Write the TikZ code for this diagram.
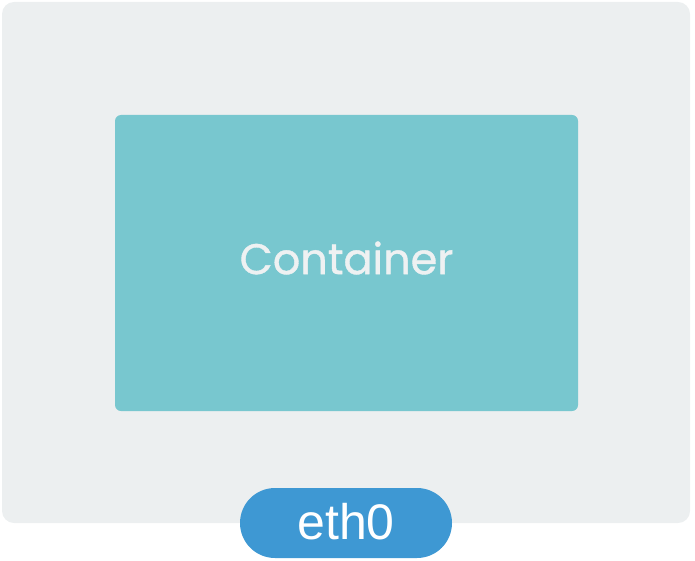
\documentclass[tikz,border=0pt]{standalone}
\usepackage{fontspec}
\newfontfamily\popfont[FakeBold=0.9]{Poppins}
\newfontfamily\arialfont{Liberation Sans}
\definecolor{outerbg}{HTML}{ECEFF0}
\definecolor{innerbg}{HTML}{78C7CF}
\definecolor{pillbg}{HTML}{3E98D3}
\definecolor{lighttext}{HTML}{EEF1F2}
\begin{document}
\begin{tikzpicture}[x=1pt,y=-1pt,
  hostbox/.style={fill=outerbg, draw=none, rounded corners=12pt},
  contbox/.style={fill=innerbg, draw=none, rounded corners=6pt},
  pillbox/.style={fill=pillbg, draw=none, rounded corners=35pt}]
\useasboundingbox (0,0) rectangle (695,561);
\path[hostbox] (2,2) rectangle (690,523);
\path[contbox] (115,115) rectangle (578,411);
\node[font=\popfont\fontsize{43}{43}\selectfont, text=lighttext] (cont) at (346.5,258) {Container};
\path[pillbox] (240,488) rectangle (452,558);
\node[font=\arialfont\fontsize{50}{50}\selectfont, text=white] (eth) at (346,522) {eth0};
\end{tikzpicture}
\end{document}
